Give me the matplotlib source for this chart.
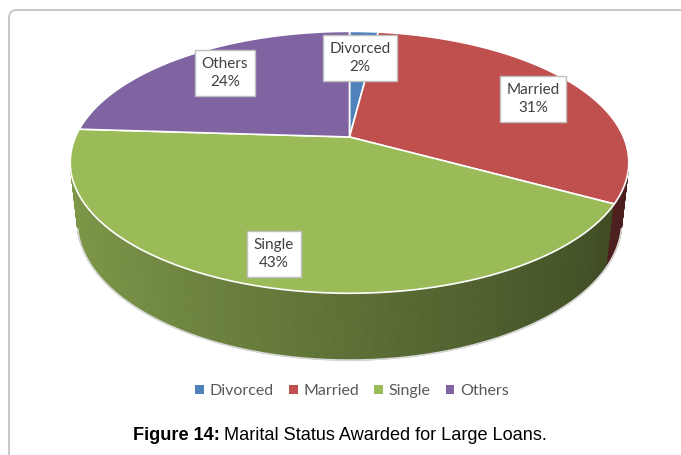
import matplotlib
matplotlib.use("Agg")
import matplotlib.pyplot as plt
import numpy as np
from matplotlib.patches import Polygon, FancyBboxPatch, Patch

# slices of the 3d pie, clockwise from 12 o'clock
labels = ['Divorced', 'Married', 'Single', 'Others']
values = [2, 31, 43, 24]
colors = ['#4F81BD', '#C0504D', '#9BBB59', '#8064A2']

# where Excel put the data label boxes (pixels)
label_pos = [(360, 58), (533, 99), (274, 254), (225, 73)]

W, H = 681, 455
fig = plt.figure(figsize=(W / 100, H / 100), dpi=100)
ax = fig.add_axes([0, 0, 1, 1])
ax.set_xlim(0, W)
ax.set_ylim(H, 0)
ax.axis('off')

# simple perspective camera for the tilted disc
s = 0.46
c = np.sqrt(1 - s * s)
D = 4.59
S = 274
cx, cy = 349.5, 137
h = 0.244


def proj(X, Y, Z):
    dist = D + Y * c - Z * s
    px = cx + S * X * D / dist
    py = cy - S * (Y * s + Z * c) * D / dist
    return px, py


def shade(col, f):
    rgb = np.array(matplotlib.colors.to_rgb(col))
    return tuple(rgb * f)


# slice angles in degrees
total = sum(values)
edges = [90.0]
for v in values:
    edges.append(edges[-1] - 360.0 * v / total)


def slice_of(t):
    # t in degrees, find which slice this angle falls into
    for i in range(len(values)):
        a, b = edges[i + 1], edges[i]
        for k in (-360, 0, 360):
            if a <= t + k <= b:
                return i
    return 0


# side wall, only the part facing the camera
lim = -1.0 / (D * c)
step = 0.5
ts = np.arange(180, 360, step)
for t in ts:
    t1 = t + step
    tm = np.radians(t + step / 2)
    if np.sin(tm) > lim:
        continue
    i = slice_of(t + step / 2)
    f = 0.6 - 0.22 * np.cos(tm)
    col = shade(colors[i], f)
    a0, a1 = np.radians(t), np.radians(t1)
    pts = [proj(np.cos(a0), np.sin(a0), 0), proj(np.cos(a1), np.sin(a1), 0),
           proj(np.cos(a1), np.sin(a1), -h), proj(np.cos(a0), np.sin(a0), -h)]
    ax.add_patch(Polygon(pts, closed=True, facecolor=col, edgecolor=col, lw=0.6))

# thin grey rim along the bottom of the wall
tb = np.radians(np.arange(194, 347, 1))
bx, by = proj(np.cos(tb), np.sin(tb), -h)
ax.plot(bx, by, color='#d9d9d9', lw=1.2, zorder=1)

# top face
for i in range(len(values)):
    tt = np.radians(np.linspace(edges[i], edges[i + 1], 120))
    xs, ys = proj(np.cos(tt), np.sin(tt), 0 * tt)
    pts = [(cx, cy)] + list(zip(xs, ys))
    ax.add_patch(Polygon(pts, closed=True, facecolor=colors[i],
                         edgecolor='white', lw=1.2, zorder=3))

# data labels
for i in range(len(values)):
    pct = round(100.0 * values[i] / total)
    x, y = label_pos[i]
    ax.text(x, y, '%s\n%d%%' % (labels[i], pct), ha='center', va='center',
            fontsize=11, family='Lato', color='#404040', linespacing=1.4,
            zorder=5,
            bbox=dict(boxstyle='square,pad=0.42', fc='white', ec='#bfbfbf', lw=1))

# frame of the chart area
ax.add_patch(FancyBboxPatch((9, 10), 800, 600, boxstyle='round,pad=0,rounding_size=8',
                            fc='none', ec='#bfbfbf', lw=1.2, zorder=0))

# legend
handles = [Patch(facecolor=colors[i], edgecolor='none', label=labels[i])
           for i in range(len(values))]
leg = fig.legend(handles=handles, loc='center', bbox_to_anchor=(352 / W, 1 - 391 / H),
                 ncol=4, frameon=False, handlelength=0.55, handleheight=0.55,
                 handletextpad=0.35, columnspacing=0.95,
                 prop={'family': 'Lato', 'size': 11.5})
for txt in leg.get_texts():
    txt.set_color('#595959')

# caption under the chart
r = fig.canvas.get_renderer()
t1 = fig.text(133 / W, 1 - 436 / H, 'Figure 14:', fontsize=13.1, weight='bold',
              family='Liberation Sans', va='center', ha='left')
bb = t1.get_window_extent(renderer=r)
fig.text((bb.x1 + 4) / W, 1 - 436 / H, 'Marital Status Awarded for Large Loans.',
         fontsize=13.1, family='Liberation Sans', va='center', ha='left')

fig.savefig('out.png', dpi=100)
